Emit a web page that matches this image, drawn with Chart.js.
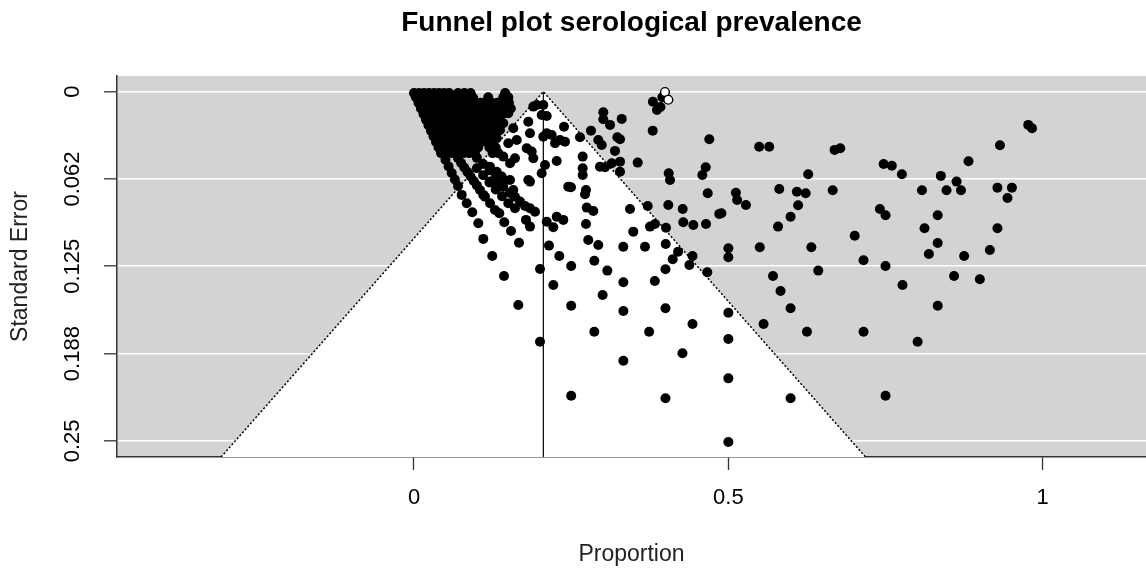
<!DOCTYPE html>
<html>
<head>
<meta charset="utf-8">
<script src="https://cdn.jsdelivr.net/npm/chart.js@4.4.1/dist/chart.umd.min.js"></script>
<style>
  html, body { margin: 0; background: #fff; }
</style>
</head>
<body>
<canvas id="funnel" width="1146" height="576"></canvas>
<script>
// pooled estimate and funnel width
const summaryProportion = 0.2057;
const zValue = 1.96;

// axis ranges and ticks
const proportionRange = [-0.4724, 1.1643];
const seRange = [-0.0112, 0.2615];
const proportionTicks = [0, 0.5, 1];
const proportionTickLabels = ["0", "0.5", "1"];
const seTicks = [0, 0.0625, 0.125, 0.1875, 0.25];
const seTickLabels = ["0", "0.062", "0.125", "0.188", "0.25"];

// big studies near the top left, read row by row: [standard error, proportions]
const clusterRows = [
  [0.001, [0, 0.008, 0.016, 0.024, 0.032, 0.04, 0.048, 0.056, 0.07, 0.08, 0.09, 0.145]],
  [0.004, [0.003, 0.012, 0.021, 0.03, 0.039, 0.048, 0.057, 0.066, 0.075, 0.084, 0.093, 0.118, 0.142, 0.15]],
  [0.008, [0.007, 0.016, 0.025, 0.034, 0.043, 0.052, 0.061, 0.07, 0.079, 0.088, 0.097, 0.106, 0.115, 0.124, 0.133, 0.142, 0.151]],
  [0.012, [0.011, 0.02, 0.029, 0.038, 0.047, 0.056, 0.065, 0.074, 0.083, 0.092, 0.101, 0.11, 0.119, 0.128, 0.137, 0.146, 0.154]],
  [0.016, [0.015, 0.024, 0.033, 0.042, 0.051, 0.06, 0.069, 0.078, 0.087, 0.096, 0.105, 0.114, 0.123, 0.132, 0.141]],
  [0.020, [0.019, 0.028, 0.037, 0.046, 0.055, 0.064, 0.073, 0.082, 0.091, 0.1, 0.109, 0.118, 0.127, 0.136]],
  [0.024, [0.023, 0.032, 0.041, 0.05, 0.059, 0.068, 0.077, 0.086, 0.095, 0.104, 0.113, 0.122, 0.131]],
  [0.028, [0.027, 0.036, 0.045, 0.054, 0.063, 0.072, 0.081, 0.09, 0.099, 0.108, 0.117, 0.126, 0.134]],
  [0.032, [0.031, 0.04, 0.049, 0.058, 0.067, 0.076, 0.085, 0.094, 0.103, 0.112, 0.121, 0.13]],
  [0.036, [0.035, 0.044, 0.053, 0.062, 0.071, 0.08, 0.089, 0.098, 0.107, 0.116, 0.125]],
  [0.040, [0.039, 0.048, 0.057, 0.066, 0.075, 0.084, 0.093, 0.102, 0.12, 0.13]],
  [0.044, [0.043, 0.052, 0.061, 0.07, 0.079, 0.088, 0.097, 0.125, 0.134]]
];

// smaller studies, [proportion, standard error]
const streakStudies = [
  [0.05, 0.0487], [0.055, 0.0535], [0.06, 0.0582], [0.065, 0.0629], [0.07, 0.0675],
  [0.0759, 0.0739], [0.0838, 0.0799], [0.0927, 0.0863], [0.1023, 0.0942], [0.1102, 0.1054], [0.1245, 0.1176],
  [0.07, 0.0477], [0.075, 0.0511], [0.08, 0.0543], [0.085, 0.0575], [0.09, 0.0607], [0.095, 0.0639], [0.1, 0.0671],
  [0.105, 0.0704], [0.1129, 0.0752], [0.1209, 0.0799], [0.1288, 0.0847], [0.1357, 0.087], [0.1436, 0.0935],
  [0.1543, 0.0997], [0.167, 0.1081],
  [0.1, 0.0548], [0.11, 0.0599], [0.12, 0.065], [0.13, 0.07], [0.14, 0.0749], [0.15, 0.0798],
  [0.1, 0.0474], [0.11, 0.0518], [0.12, 0.0563], [0.13, 0.0606], [0.14, 0.0649],
  [0.1527, 0.0726], [0.1606, 0.0752], [0.1686, 0.0787], [0.1766, 0.0818], [0.1845, 0.0835], [0.1925, 0.0859],
  [0.1606, 0.0835], [0.1781, 0.0918], [0.1845, 0.0966],
  [0.1209, 0.0644], [0.1368, 0.0644], [0.1845, 0.0644],
  [0.2057, 0.0095], [0.1952, 0.0095], [0.1898, 0.0107], [0.2031, 0.0167], [0.2111, 0.0174], [0.1818, 0.0215],
  [0.1845, 0.0298], [0.2057, 0.0322], [0.1634, 0.0346], [0.1793, 0.0405], [0.1872, 0.0429], [0.1898, 0.0477],
  [0.1606, 0.0477], [0.2031, 0.0584], [0.1818, 0.0632], [0.2454, 0.068], [0.1474, 0.0083], [0.15, 0.0155],
  [0.1579, 0.0262], [0.142, 0.0226], [0.1368, 0.0274], [0.1315, 0.0334], [0.15, 0.0369], [0.142, 0.0465],
  [0.1527, 0.0513], [0.1209, 0.0537], [0.1315, 0.0573], [0.1395, 0.0608], [0.1527, 0.0632], [0.1579, 0.0704],
  [0.142, 0.068], [0.1315, 0.0656], [0.1102, 0.0739], [0.1156, 0.0095], [0.1209, 0.0107], [0.0943, 0.0047],
  [0.0838, 0.0036], [0.0732, 0.0047], [0.0573, 0.0024], [0.0466, 0.0024], [0.0148, 0.0024], [0.0068, 0.0047]
];

const funnelStudies = [
  [0.5, 0.1582], [0.5, 0.177], [0.5, 0.2052], [0.5, 0.2508], [0.4, 0.2195], [0.427, 0.1873], [0.443, 0.1663],
  [0.4, 0.155], [0.383, 0.1355], [0.4, 0.1271], [0.4115, 0.12], [0.42, 0.1146], [0.443, 0.1176], [0.438, 0.1241],
  [0.4665, 0.1293], [0.374, 0.1718], [0.333, 0.1926], [0.333, 0.157], [0.333, 0.1364], [0.3, 0.1455],
  [0.3075, 0.1281], [0.2868, 0.121], [0.2868, 0.1718], [0.25, 0.2176], [0.25, 0.1532], [0.25, 0.1248],
  [0.2216, 0.1384], [0.2311, 0.1176], [0.2004, 0.1269], [0.2004, 0.179], [0.1659, 0.1527], [0.1432, 0.1319],
  [0.2147, 0.1102],
  [0.3797, 0.0279], [0.3011, 0.0147], [0.3011, 0.0198], [0.3118, 0.0238], [0.3304, 0.0195], [0.2815, 0.0279],
  [0.2386, 0.0251], [0.264, 0.0326], [0.2111, 0.0298], [0.219, 0.031], [0.2243, 0.0369], [0.2322, 0.0346],
  [0.2402, 0.0358], [0.2931, 0.0346], [0.2986, 0.0382], [0.3234, 0.0326], [0.3277, 0.0341], [0.3197, 0.0424],
  [0.2683, 0.0465], [0.2683, 0.0548], [0.2683, 0.0596], [0.227, 0.0496], [0.2084, 0.0525], [0.2958, 0.0537],
  [0.3038, 0.0541], [0.3145, 0.0513], [0.3277, 0.0501], [0.3277, 0.0573], [0.3558, 0.0508], [0.2497, 0.0684],
  [0.2736, 0.0704], [0.272, 0.0734], [0.2747, 0.083], [0.2852, 0.0854], [0.3436, 0.084], [0.3717, 0.0818],
  [0.4045, 0.0811], [0.4274, 0.084], [0.4051, 0.0584], [0.4072, 0.0632], [0.464, 0.0541], [0.4586, 0.0596],
  [0.4697, 0.0341], [0.4672, 0.0727], [0.4856, 0.0875], [0.4283, 0.0935], [0.4443, 0.0954], [0.4645, 0.0947],
  [0.4008, 0.0974], [0.3754, 0.0966], [0.3833, 0.0947], [0.3488, 0.1002], [0.2736, 0.0947], [0.227, 0.0895],
  [0.2375, 0.0918], [0.2111, 0.0931], [0.2216, 0.0971], [0.2772, 0.1062], [0.2931, 0.1097], [0.3329, 0.111],
  [0.3674, 0.111], [0.4004, 0.109],
  [0.38, 0.0072], [0.3865, 0.0131], [0.392, 0.011], [0.395, 0.004]
];

const highPrevalence = [
  [0.549, 0.0394], [0.565, 0.0394], [0.669, 0.0417], [0.678, 0.0405], [0.747, 0.0518], [0.76, 0.053],
  [0.776, 0.0591], [0.627, 0.0591], [0.581, 0.0697], [0.609, 0.0716], [0.623, 0.0727], [0.666, 0.0706],
  [0.512, 0.0723], [0.514, 0.0775], [0.528, 0.0811], [0.489, 0.087], [0.611, 0.0813], [0.599, 0.0895],
  [0.579, 0.0966], [0.55, 0.1114], [0.632, 0.1114], [0.5, 0.1121], [0.5, 0.1185], [0.701, 0.1031],
  [0.715, 0.1207], [0.741, 0.084], [0.75, 0.0885], [0.75, 0.1248], [0.643, 0.1281], [0.571, 0.1319],
  [0.808, 0.0706], [0.838, 0.0603], [0.863, 0.0644], [0.847, 0.0706], [0.87, 0.0706], [0.882, 0.0498],
  [0.932, 0.0384], [0.977, 0.0238], [0.983, 0.0262], [0.928, 0.0687], [0.951, 0.0687], [0.944, 0.0761],
  [0.833, 0.0885], [0.812, 0.0978], [0.928, 0.0978], [0.833, 0.1083], [0.819, 0.1162], [0.875, 0.1176],
  [0.916, 0.1133], [0.859, 0.1319], [0.9, 0.1343], [0.583, 0.1427], [0.599, 0.155], [0.556, 0.1663],
  [0.625, 0.1718], [0.715, 0.1718], [0.777, 0.1384], [0.833, 0.1532], [0.801, 0.179], [0.75, 0.2176],
  [0.599, 0.2195]
];

// open circles
const openStudies = [[0.3992, 0.0003], [0.4045, 0.0058]];

const fontFamily = '"Liberation Sans", Arial, Helvetica, sans-serif';

const filledPoints = [];
clusterRows.forEach(([se, props]) => {
  props.forEach((p) => filledPoints.push({ x: p, y: se }));
});
[streakStudies, funnelStudies, highPrevalence].forEach((group) => {
  group.forEach(([p, se]) => filledPoints.push({ x: p, y: se }));
});
const openPoints = openStudies.map(([p, se]) => ({ x: p, y: se }));

const seMax = seRange[1];
const funnelEdge = [
  { x: summaryProportion - zValue * seMax, y: seMax },
  { x: summaryProportion, y: 0 },
  { x: summaryProportion + zValue * seMax, y: seMax },
];
const summaryLine = [
  { x: summaryProportion, y: 0 },
  { x: summaryProportion, y: seMax },
];

// grey panel behind everything
const panelBackground = {
  id: "panelBackground",
  beforeDraw(chart) {
    const { ctx, chartArea } = chart;
    ctx.save();
    ctx.fillStyle = "#d3d3d3";
    ctx.fillRect(chartArea.left, chartArea.top, chartArea.right - chartArea.left, chartArea.bottom - chartArea.top);
    ctx.restore();
  },
};

new Chart(document.getElementById("funnel"), {
  type: "scatter",
  data: {
    datasets: [
      {
        type: "line",
        data: funnelEdge,
        fill: { value: seMax },
        backgroundColor: "#ffffff",
        borderColor: "#000000",
        borderWidth: 1.5,
        borderDash: [2, 2],
        pointRadius: 0,
        tension: 0,
        order: 3,
      },
      {
        type: "line",
        data: summaryLine,
        borderColor: "#000000",
        borderWidth: 1.2,
        pointRadius: 0,
        fill: false,
        order: 2,
      },
      {
        data: filledPoints,
        backgroundColor: "#000000",
        borderWidth: 0,
        pointRadius: 5,
        order: 1,
      },
      {
        data: openPoints,
        backgroundColor: "#ffffff",
        borderColor: "#000000",
        borderWidth: 1.4,
        pointRadius: 4.4,
        order: 0,
      },
    ],
  },
  options: {
    responsive: false,
    animation: false,
    events: [],
    layout: { padding: 0, autoPadding: false },
    plugins: {
      legend: { display: false },
      tooltip: { enabled: false },
      title: {
        display: true,
        text: "Funnel plot serological prevalence",
        fullSize: false,
        color: "#000",
        font: { family: fontFamily, size: 28, weight: "bold" },
        padding: { top: 6, bottom: 36.4 },
      },
    },
    scales: {
      x: {
        type: "linear",
        min: proportionRange[0],
        max: proportionRange[1],
        z: 1,
        afterBuildTicks: (scale) => {
          scale.ticks = proportionTicks.map((v) => ({ value: v }));
        },
        afterFit: (scale) => {
          scale.height = 119;
        },
        grid: { drawOnChartArea: false, tickLength: 13, tickColor: "#333", tickWidth: 1.3 },
        border: { color: "#333", width: 1.5 },
        ticks: {
          padding: 15,
          color: "#000",
          maxRotation: 0,
          autoSkip: false,
          font: { family: fontFamily, size: 22 },
          callback: (v) => proportionTickLabels[proportionTicks.indexOf(v)],
        },
        title: {
          display: true,
          text: "Proportion",
          color: "#222",
          font: { family: fontFamily, size: 23 },
          padding: { top: 0, bottom: 8 },
        },
      },
      y: {
        type: "linear",
        reverse: true,
        min: seRange[0],
        max: seRange[1],
        afterBuildTicks: (scale) => {
          scale.ticks = seTicks.map((v) => ({ value: v }));
        },
        afterFit: (scale) => {
          scale.width = 117;
        },
        grid: { color: "#ffffff", lineWidth: 1.6, tickLength: 13, tickColor: "#333", tickWidth: 1.3 },
        border: { color: "#333", width: 1.5 },
        ticks: {
          padding: 4,
          minRotation: 90,
          maxRotation: 90,
          crossAlign: "center",
          autoSkip: false,
          color: "#000",
          font: { family: fontFamily, size: 22 },
          callback: (v) => seTickLabels[seTicks.indexOf(v)],
        },
        title: {
          display: true,
          text: "Standard Error",
          color: "#222",
          font: { family: fontFamily, size: 23 },
          padding: { top: 7, bottom: 0 },
        },
      },
    },
  },
  plugins: [panelBackground],
});
</script>
</body>
</html>
